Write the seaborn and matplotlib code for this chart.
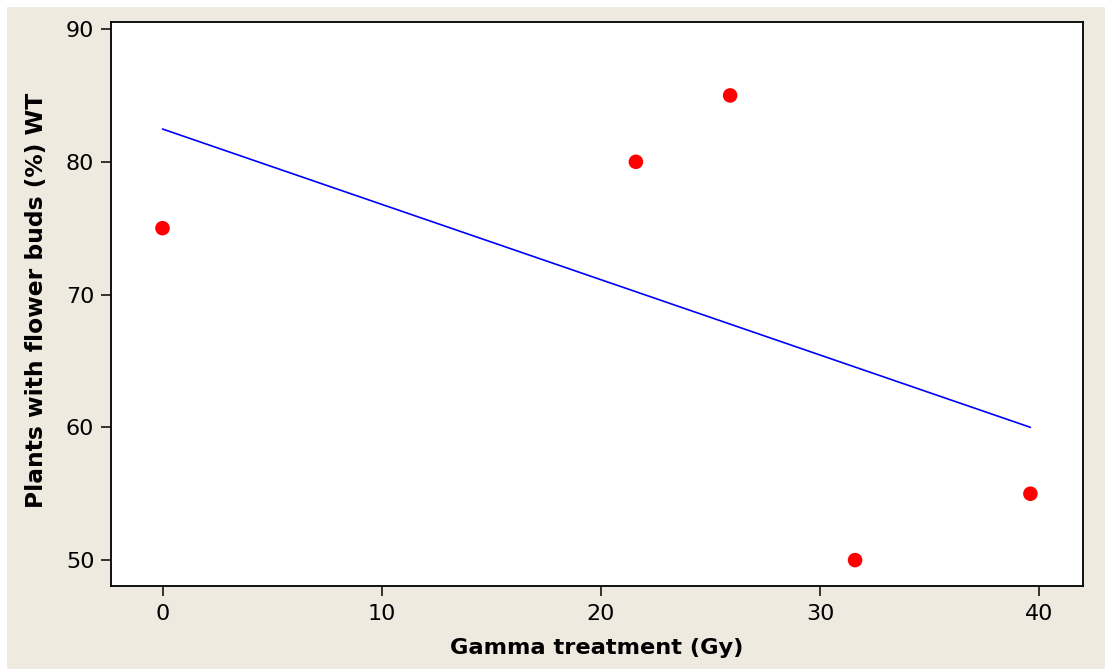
import matplotlib
matplotlib.use("Agg")
import matplotlib.pyplot as plt
from matplotlib.patches import Rectangle
import pandas as pd
import seaborn as sns

# Gamma dose (Gy) and share of wild-type plants with flower buds (%)
dose_gy = [0.0, 21.6, 25.9, 31.6, 39.6]
buds_pct = [75.0, 80.0, 85.0, 50.0, 55.0]
x_ticks = [0, 10, 20, 30, 40]
y_ticks = [50, 60, 70, 80, 90]

df = pd.DataFrame({"dose": dose_gy, "buds": buds_pct})

sns.set_theme(style="ticks")
plt.rcParams["font.family"] = ["DejaVu Sans"]

panel = "#EEEAE0"
fig = plt.figure(figsize=(11.05, 6.69), dpi=100, facecolor="white")
# beige panel behind the plot, leaving a thin white margin top/left
fig.patches.append(Rectangle((7 / 1105, 0), 1, 1 - 7 / 669,
                             transform=fig.transFigure, facecolor=panel,
                             edgecolor="none", zorder=-5))

ax = fig.add_axes([111 / 1105, 1 - 586 / 669, (1083 - 111) / 1105, (586 - 22) / 669])
ax.set_facecolor("white")

sns.regplot(data=df, x="dose", y="buds", ax=ax, ci=None,
            scatter_kws=dict(s=110, color="#FF0000", edgecolor="none", alpha=1, zorder=3),
            line_kws=dict(color="#0000FF", lw=1.2, zorder=2))

ax.set_xlim(-2.35, 42.0)
ax.set_ylim(48.05, 90.53)
ax.set_xticks(x_ticks)
ax.set_yticks(y_ticks)

for side in ["left", "right", "top", "bottom"]:
    ax.spines[side].set_visible(True)
    ax.spines[side].set_color("black")
    ax.spines[side].set_linewidth(1.3)

ax.tick_params(axis="both", direction="out", length=7, width=1.1, color="black",
               labelsize=16, labelcolor="black")
ax.tick_params(axis="y", pad=5)
ax.tick_params(axis="x", pad=6)

ax.set_xlabel("Gamma treatment (Gy)", fontsize=16.2, fontweight="bold", color="black", labelpad=10)
ax.set_ylabel("Plants with flower buds (%) WT", fontsize=16.8, fontweight="bold", color="black")
ax.yaxis.set_label_coords(-0.065, 0.507)

fig.savefig("out.png", dpi=100, facecolor=fig.get_facecolor())
